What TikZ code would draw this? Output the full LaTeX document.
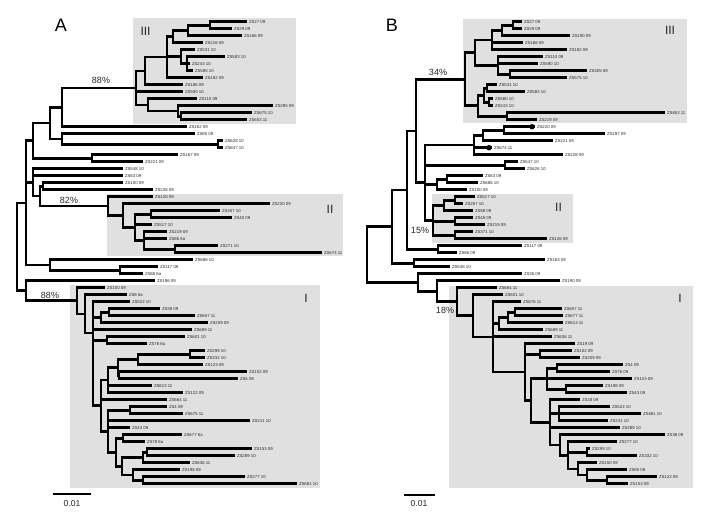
\documentclass[tikz,border=0pt]{standalone}
\usepackage{fontspec}
\setmainfont{Liberation Sans}
\definecolor{boxgray}{RGB}{224,224,224}
\tikzset{
  br/.style={line width=2.6pt, black},
  lab/.style={anchor=west, inner sep=0pt, xshift=1.8pt, font=\fontsize{4.3}{4.3}\selectfont, text=black!85},
  pct/.style={font=\fontsize{9}{9}\selectfont, text=black!85, inner sep=0pt},
  roman/.style={font=\fontsize{12}{12}\selectfont, text=black!85, inner sep=0pt},
  panel/.style={font=\fontsize{18}{18}\selectfont, inner sep=0pt},
  cladebox/.style={fill=boxgray, draw=none},
  dotmark/.style={circle, fill=black, inner sep=0pt, minimum size=5.4pt},
  sbar/.style={line width=2.6pt, black}
}
\newcommand\inn[3]{\coordinate (#1) at (#2,{21.7+7*(#3)});}
\newcommand\lf[4]{\coordinate (#1) at (#2,{21.7+7*(#3)}); \node[lab] (#1t) at (#1) {#4};}
\newcommand\kids[2]{\foreach \c in {#2}{\draw[br] (#1) |- (\c);}}
\begin{document}
\begin{tikzpicture}[x=1pt,y=-1pt]
\useasboundingbox (0,0) rectangle (705,515);
% clade boxes
\fill[cladebox] (133,18) rectangle (296,124);
\fill[cladebox] (107,194) rectangle (343,256);
\fill[cladebox] (70,285) rectangle (320,488);
\fill[cladebox] (463,19) rectangle (687,123);
\fill[cladebox] (432,194) rectangle (573,243);
\fill[cladebox] (449,286) rectangle (693,488);
% panel letters and clade numerals
\node[panel] (PA) at (61,25) {A};
\node[panel] (PB) at (392,25) {B};
\node[roman] (rA3) at (145.5,31) {III};
\node[roman] (rA2) at (330,209) {II};
\node[roman] (rA1) at (306,298) {I};
\node[roman] (rB3) at (670,30) {III};
\node[roman] (rB2) at (558.5,207) {II};
\node[roman] (rB1) at (680,298) {I};
\node[pct] (pA1) at (101,80) {88\%};
\node[pct] (pA2) at (69,200) {82\%};
\node[pct] (pA3) at (50,295) {88\%};
\node[pct] (pB1) at (438,72) {34\%};
\node[pct] (pB2) at (420,230) {15\%};
\node[pct] (pB3) at (445,310) {18\%};
% ---------- Panel A leaves ----------
\lf{LA0}{247}{0}{ZS27 09}
\lf{LA1}{232}{1}{ZS29 09}
\lf{LA2}{242}{2}{ZS166 09}
\lf{LA3}{203}{3}{ZS216 09}
\lf{LA4}{195}{4}{ZS531 10}
\lf{LA5}{225}{5}{ZS583 10}
\lf{LA6}{190}{6}{ZS243 10}
\lf{LA7}{193}{7}{ZS580 10}
\lf{LA8}{203}{8}{ZS182 09}
\lf{LA9}{183}{9}{ZS186 09}
\lf{LA10}{183}{10}{ZS590 10}
\lf{LA11}{197}{11}{ZS110 09}
\lf{LA12}{273}{12}{ZS285 09}
\lf{LA13}{252}{13}{ZS675 10}
\lf{LA14}{247}{14}{ZS653 11}
\lf{LA15}{187}{15}{ZS162 09}
\lf{LA16}{195}{16}{ZS85 09}
\lf{LA17}{223}{17}{ZS628 10}
\lf{LA18}{223}{18}{ZS647 10}
\lf{LA19}{178}{19}{ZS167 09}
\lf{LA20}{143}{20}{ZS221 09}
\lf{LA21}{123}{21}{ZS548 10}
\lf{LA22}{123}{22}{ZS63 09}
\lf{LA23}{123}{23}{ZS100 09}
\lf{LA24}{153}{24}{ZS226 09}
\lf{LA25}{153}{25}{ZS128 09}
\lf{LA26}{270}{26}{ZS220 09}
\lf{LA27}{220}{27}{ZS357 10}
\lf{LA28}{232}{28}{ZS40 09}
\lf{LA29}{152}{29}{ZS517 10}
\lf{LA30}{167}{30}{ZS219 09}
\lf{LA31}{167}{31}{ZS86 6a}
\lf{LA32}{218}{32}{ZS271 10}
\lf{LA33}{322}{33}{ZS674 11}
\lf{LA34}{193}{34}{ZS686 10}
\lf{LA35}{158}{35}{ZS117 09}
\lf{LA36}{143}{36}{ZS86 6a}
\lf{LA37}{155}{37}{ZS196 09}
\lf{LA38}{105}{38}{ZS150 09}
\lf{LA39}{127}{39}{ZS8 6a}
\lf{LA40}{130}{40}{ZS522 10}
\lf{LA41}{160}{41}{ZS38 09}
\lf{LA42}{195}{42}{ZS607 11}
\lf{LA43}{208}{43}{ZS209 09}
\lf{LA44}{192}{44}{ZS689 11}
\lf{LA45}{185}{45}{ZS601 10}
\lf{LA46}{147}{46}{ZS76 6a}
\lf{LA47}{205}{47}{ZS299 10}
\lf{LA48}{205}{48}{ZS332 10}
\lf{LA49}{203}{49}{ZS123 09}
\lf{LA50}{247}{50}{ZS102 09}
\lf{LA51}{238}{51}{ZS5 09}
\lf{LA52}{152}{52}{ZS613 11}
\lf{LA53}{183}{53}{ZS122 09}
\lf{LA54}{167}{54}{ZS664 11}
\lf{LA55}{167}{55}{ZS4 09}
\lf{LA56}{183}{56}{ZS675 11}
\lf{LA57}{250}{57}{ZS241 10}
\lf{LA58}{130}{58}{ZS43 09}
\lf{LA59}{182}{59}{ZS677 6a}
\lf{LA60}{145}{60}{ZS78 6a}
\lf{LA61}{252}{61}{ZS153 09}
\lf{LA62}{235}{62}{ZS289 10}
\lf{LA63}{190}{63}{ZS636 11}
\lf{LA64}{180}{64}{ZS198 09}
\lf{LA65}{245}{65}{ZS277 10}
\lf{LA66}{297}{66}{ZS681 10}
% ---------- Panel A internal nodes ----------
\inn{a1}{210}{0.5}
\inn{a2}{188}{1.25}
\inn{a3}{173}{2.125}
\inn{a4}{187}{6}
\inn{a5}{181}{5}
\inn{a6}{167}{5.06}
\inn{a7}{145}{7.03}
\inn{a8}{181}{13.5}
\inn{a9}{178}{12.75}
\inn{a10}{148}{11.875}
\inn{a11}{136}{9.45}
\inn{a12}{62}{12.23}
\inn{a13}{218}{17.5}
\inn{a14}{62}{16.75}
\inn{a15}{50}{14.49}
\inn{a16}{92}{19.5}
\inn{a17}{33}{17}
\inn{a18}{43}{23.5}
\inn{b1}{151}{27.5}
\inn{b2}{175}{32.5}
\inn{b3}{144}{31.25}
\inn{b4}{135}{29.375}
\inn{b5}{123}{27.69}
\inn{b6}{108}{26.34}
\inn{a19}{40}{24.92}
\inn{a20}{33}{22.96}
\inn{a22}{120}{35.5}
\inn{a23}{50}{34.75}
\inn{a24}{26}{25.875}
\inn{c1}{109}{41.5}
\inn{c2}{101}{42.25}
\inn{c3}{107}{45.5}
\inn{c4}{190}{47.5}
\inn{c5}{138}{48.25}
\inn{c6}{119}{50.5}
\inn{c7}{118}{49.375}
\inn{c8}{108}{51.19}
\inn{c9}{130}{55.5}
\inn{c10}{123}{59.5}
\inn{c11}{147}{61.5}
\inn{c12}{143}{62.25}
\inn{c13}{143}{65.5}
\inn{c14}{133}{64.75}
\inn{c15}{122}{63.5}
\inn{c16}{116}{61.5}
\inn{c17}{108}{58.5}
\inn{c18}{101}{54.85}
\inn{c19}{93}{44.47}
\inn{c20}{85}{41.74}
\inn{c21}{77}{39.87}
\inn{a25}{26}{38.43}
\inn{a26}{17}{32.15}
% ---------- Panel A branches ----------
\kids{a1}{LA0,LA1}
\kids{a2}{a1,LA2}
\kids{a3}{a2,LA3}
\kids{a4}{LA5,LA6,LA7}
\kids{a5}{LA4,a4}
\kids{a6}{a3,a5,LA8}
\kids{a7}{a6,LA9}
\kids{a8}{LA13,LA14}
\kids{a9}{LA12,a8}
\kids{a10}{LA11,a9}
\kids{a11}{a7,LA10,a10}
\kids{a12}{a11,LA15}
\kids{a13}{LA17,LA18}
\kids{a14}{LA16,a13}
\kids{a15}{a12,a14}
\kids{a16}{LA19,LA20}
\kids{a17}{a15,a16}
\kids{a18}{LA23,LA24}
\kids{b1}{LA27,LA28}
\kids{b2}{LA32,LA33}
\kids{b3}{LA30,LA31,b2}
\kids{b4}{b1,LA29,b3}
\kids{b5}{LA26,b4}
\kids{b6}{LA25,b5}
\kids{a19}{a18,b6}
\kids{a20}{LA21,LA22,a19}
\kids{a22}{LA35,LA36}
\kids{a23}{LA34,a22}
\kids{a24}{a17,a20,a23}
\kids{c1}{LA41,LA42}
\kids{c2}{c1,LA43}
\kids{c3}{LA45,LA46}
\kids{c4}{LA47,LA48}
\kids{c5}{c4,LA49}
\kids{c6}{LA50,LA51}
\kids{c7}{c5,c6}
\kids{c8}{c7,LA52,LA53}
\kids{c9}{LA55,LA56}
\kids{c10}{LA59,LA60}
\kids{c11}{LA61,LA62}
\kids{c12}{c11,LA63}
\kids{c13}{LA65,LA66}
\kids{c14}{LA64,c13}
\kids{c15}{c12,c14}
\kids{c16}{c10,c15}
\kids{c17}{c9,LA57,LA58,c16}
\kids{c18}{c8,LA54,c17}
\kids{c19}{LA40,c2,LA44,c3,c18}
\kids{c20}{LA39,c19}
\kids{c21}{LA38,c20}
\kids{a25}{LA37,c21}
\kids{a26}{a24,a25}
% ---------- Panel B leaves ----------
\lf{LB0}{522}{0}{ZS27 09}
\lf{LB1}{522}{1}{ZS29 09}
\lf{LB2}{570}{2}{ZS190 09}
\lf{LB3}{523}{3}{ZS166 09}
\lf{LB4}{567}{4}{ZS182 09}
\lf{LB5}{543}{5}{ZS110 09}
\lf{LB6}{538}{6}{ZS590 10}
\lf{LB7}{587}{7}{ZS305 09}
\lf{LB8}{567}{8}{ZS575 10}
\lf{LB9}{497}{9}{ZS531 10}
\lf{LB10}{525}{10}{ZS583 10}
\lf{LB11}{493}{11}{ZS580 10}
\lf{LB12}{493}{12}{ZS243 10}
\lf{LB13}{665}{13}{ZS653 11}
\lf{LB14}{537}{14}{ZS219 09}
\lf{LB15}{535}{15}{ZS220 09}
\lf{LB16}{605}{16}{ZS197 09}
\lf{LB17}{553}{17}{ZS221 09}
\lf{LB18}{492}{18}{ZS674 11}
\lf{LB19}{563}{19}{ZS228 09}
\lf{LB20}{518}{20}{ZS547 10}
\lf{LB21}{525}{21}{ZS626 10}
\lf{LB22}{483}{22}{ZS63 09}
\lf{LB23}{478}{23}{ZS686 10}
\lf{LB24}{467}{24}{ZS100 09}
\lf{LB25}{475}{25}{ZS517 10}
\lf{LB26}{463}{26}{ZS267 10}
\lf{LB27}{473}{27}{ZS98 09}
\lf{LB28}{473}{28}{ZS46 09}
\lf{LB29}{485}{29}{ZS219 09}
\lf{LB30}{473}{30}{ZS371 10}
\lf{LB31}{547}{31}{ZS126 09}
\lf{LB32}{522}{32}{ZS117 09}
\lf{LB33}{457}{33}{ZS86 09}
\lf{LB34}{545}{34}{ZS163 09}
\lf{LB35}{450}{35}{ZS548 10}
\lf{LB36}{522}{36}{ZS36 09}
\lf{LB37}{560}{37}{ZS190 09}
\lf{LB38}{497}{38}{ZS664 11}
\lf{LB39}{503}{39}{ZS601 10}
\lf{LB40}{521}{40}{ZS676 11}
\lf{LB41}{562}{41}{ZS607 11}
\lf{LB42}{563}{42}{ZS677 11}
\lf{LB43}{563}{43}{ZS613 11}
\lf{LB44}{543}{44}{ZS689 11}
\lf{LB45}{552}{45}{ZS636 11}
\lf{LB46}{575}{46}{ZS19 09}
\lf{LB47}{572}{47}{ZS102 09}
\lf{LB48}{580}{48}{ZS209 09}
\lf{LB49}{623}{49}{ZS4 09}
\lf{LB50}{610}{50}{ZS76 09}
\lf{LB51}{632}{51}{ZS123 09}
\lf{LB52}{603}{52}{ZS198 09}
\lf{LB53}{627}{53}{ZS43 09}
\lf{LB54}{580}{54}{ZS38 09}
\lf{LB55}{610}{55}{ZS522 10}
\lf{LB56}{641}{56}{ZS681 10}
\lf{LB57}{608}{57}{ZS241 10}
\lf{LB58}{620}{58}{ZS289 10}
\lf{LB59}{665}{59}{ZS38 09}
\lf{LB60}{617}{60}{ZS277 10}
\lf{LB61}{590}{61}{ZS299 10}
\lf{LB62}{637}{62}{ZS332 10}
\lf{LB63}{597}{63}{ZS150 09}
\lf{LB64}{627}{64}{ZS85 09}
\lf{LB65}{657}{65}{ZS122 09}
\lf{LB66}{628}{66}{ZS153 09}
% ---------- Panel B internal nodes ----------
\inn{bU1}{513}{0.5}
\inn{bU2}{502}{1.25}
\inn{bU3}{492}{2.625}
\inn{bU4}{510}{7.5}
\inn{bU5}{498}{6.25}
\inn{bU6}{475}{4.44}
\inn{bB1}{487}{9.5}
\inn{bB2}{489}{11.5}
\inn{bB3}{484}{10.5}
\inn{bB4}{507}{13.5}
\inn{bB5}{478}{12}
\inn{bB6}{465}{8.22}
\inn{bM1}{504}{15.5}
\inn{bM2}{483}{16.25}
\inn{bM3}{474}{17.625}
\inn{bM4}{505}{20.5}
\inn{bM6}{447}{22.5}
\inn{bM5}{437}{23.25}
\inn{bII1}{455}{25.5}
\inn{bII2}{444}{26.25}
\inn{bII3}{455}{28.5}
\inn{bII4}{455}{30.5}
\inn{bII5}{433}{28.375}
\inn{bM7}{425}{23}
\inn{bM8}{416}{15.61}
\inn{bM9}{438}{32.5}
\inn{bM10}{407}{24.06}
\inn{bM11}{414}{34.5}
\inn{bM12}{392}{29.28}
\inn{bI4}{515}{41.5}
\inn{bI5}{508}{42.25}
\inn{bI6}{499}{43.125}
\inn{bI8}{540}{47.5}
\inn{bI11}{557}{49.5}
\inn{bI10}{566}{52.5}
\inn{bI12}{547}{51}
\inn{bI15}{559}{56}
\inn{bI17}{587}{61.5}
\inn{bI19}{607}{65.5}
\inn{bI20}{587}{64.75}
\inn{bI18}{578}{63.875}
\inn{bI16}{568}{61.94}
\inn{bI21}{560}{60.47}
\inn{bI22}{550}{57.23}
\inn{bI13}{531}{54.12}
\inn{bI7}{525}{50.06}
\inn{bI3}{493}{45.03}
\inn{bI2}{473}{42.01}
\inn{bI}{457}{40}
\inn{bR1}{437}{38.5}
\inn{bR2}{418}{37.25}
\inn{bRoot}{367}{33.27}
% ---------- Panel B branches ----------
\kids{bU1}{LB0,LB1}
\kids{bU2}{bU1,LB2}
\kids{bU3}{bU2,LB3,LB4}
\kids{bU4}{LB7,LB8}
\kids{bU5}{LB5,LB6,bU4}
\kids{bU6}{bU3,bU5}
\kids{bB1}{LB9,LB10}
\kids{bB2}{LB11,LB12}
\kids{bB3}{bB1,bB2}
\kids{bB4}{LB13,LB14}
\kids{bB5}{bB3,bB4}
\kids{bB6}{bU6,bB5}
\kids{bM1}{LB15,LB16}
\kids{bM2}{bM1,LB17}
\kids{bM3}{bM2,LB18,LB19}
\kids{bM4}{LB20,LB21}
\kids{bM6}{LB22,LB23}
\kids{bM5}{bM6,LB24}
\kids{bII1}{LB25,LB26}
\kids{bII2}{bII1,LB27}
\kids{bII3}{LB28,LB29}
\kids{bII4}{LB30,LB31}
\kids{bII5}{bII2,bII3,bII4}
\kids{bM7}{bM3,bM4,bM5,bII5}
\kids{bM8}{bB6,bM7}
\kids{bM9}{LB32,LB33}
\kids{bM10}{bM8,bM9}
\kids{bM11}{LB34,LB35}
\kids{bM12}{bM10,bM11}
\kids{bI4}{LB41,LB42}
\kids{bI5}{bI4,LB43}
\kids{bI6}{bI5,LB44}
\kids{bI8}{LB47,LB48}
\kids{bI11}{LB49,LB50}
\kids{bI10}{LB52,LB53}
\kids{bI12}{bI11,LB51,bI10}
\kids{bI15}{LB55,LB56,LB57}
\kids{bI17}{LB61,LB62}
\kids{bI19}{LB65,LB66}
\kids{bI20}{LB64,bI19}
\kids{bI18}{LB63,bI20}
\kids{bI16}{LB60,bI17,bI18}
\kids{bI21}{LB59,bI16}
\kids{bI22}{LB54,bI15,LB58,bI21}
\kids{bI13}{bI12,bI22}
\kids{bI7}{LB46,bI8,bI13}
\kids{bI3}{LB40,bI6,LB45,bI7}
\kids{bI2}{LB39,bI3}
\kids{bI}{LB38,bI2}
\kids{bR1}{LB37,bI}
\kids{bR2}{LB36,bR1}
\kids{bRoot}{bM12,bR2}
% marked leaves
\node[dotmark] (dot1) at (532,{21.7+7*15}) {};
\node[dotmark] (dot2) at (489,{21.7+7*18}) {};
% scale bars
\coordinate (sA1) at (53,494); \coordinate (sA2) at (91,494);
\draw[sbar] (sA1) -- (sA2);
\node[pct, font=\fontsize{8.6}{8.6}\selectfont] (tA) at (72,503.5) {0.01};
\coordinate (sB1) at (404,495); \coordinate (sB2) at (435,495);
\draw[sbar] (sB1) -- (sB2);
\node[pct, font=\fontsize{8.6}{8.6}\selectfont] (tB) at (419,503.5) {0.01};
\end{tikzpicture}
\end{document}
